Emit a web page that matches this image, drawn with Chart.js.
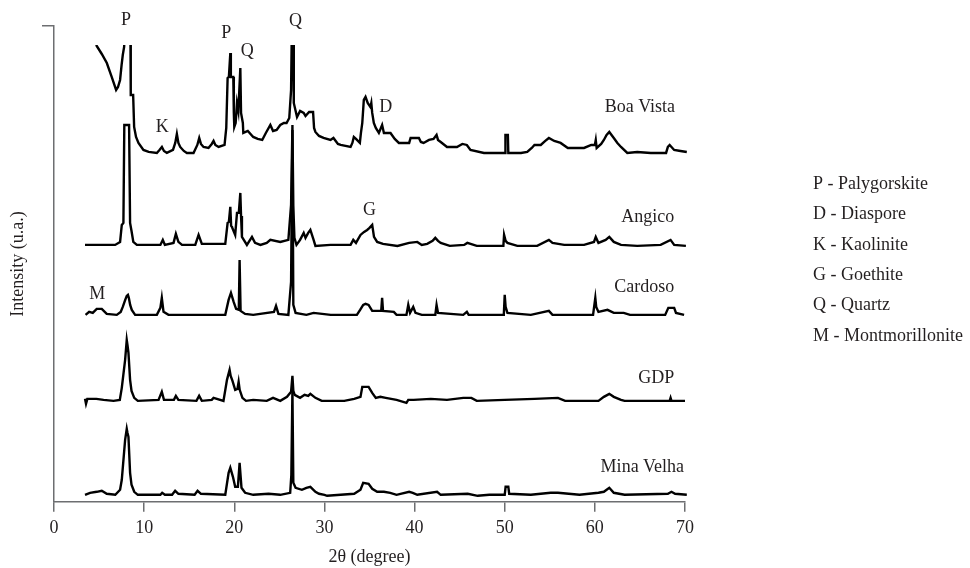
<!DOCTYPE html>
<html><head><meta charset="utf-8">
<script src="https://cdn.jsdelivr.net/npm/chart.js@4.4.1/dist/chart.umd.min.js"></script>
<style>html,body{margin:0;padding:0;background:#fff;}#wrap{width:970px;height:568px;position:relative;}</style>
</head><body><div id="wrap"><canvas id="c"></canvas></div>
<script>
// ---- data (2θ in degrees, intensity in arbitrary units above each trace's own baseline) ----
const sampleNames = ['Boa Vista', 'Angico', 'Cardoso', 'GDP', 'Mina Velha'];
const traceOffsets = [349, 256, 187, 101, 7];

const boaVista = [[4.6,112],[4.74,107],[5.3,99],[5.86,90],[6.4,76],[6.89,63],[7.1,66],[7.33,73],[7.5,88],[7.63,98],[7.78,106],[7.9,140],[8.2,175],[8.45,170],[8.5,130],[8.53,58],[8.78,58],[8.89,26],[9.1,16],[9.37,10],[9.92,3],[10.5,1],[11.41,0],[11.7,3],[11.97,6],[12.2,2],[12.52,0],[13.2,3],[13.45,10],[13.63,19],[13.8,10],[14.0,6],[14.4,2],[14.74,0],[15.48,0],[15.9,8],[16.11,15],[16.3,9],[16.59,6],[17.14,5],[17.5,9],[17.7,12],[17.9,8],[18.26,6],[18.92,8],[19.11,25],[19.26,75],[19.4,76],[19.56,100],[19.62,76],[19.89,76],[19.95,40],[20.0,26],[20.15,30],[20.3,50],[20.45,42],[20.67,85],[20.75,40],[20.85,40],[20.95,30],[21.0,20],[21.5,22],[22.1,16],[22.6,14],[23.1,13],[23.5,20],[24.0,28],[24.3,22],[24.7,23],[25.1,28],[25.5,30],[25.8,30],[26.1,35],[26.3,63],[26.42,150],[26.52,150],[26.6,50],[26.96,36],[27.3,42],[27.7,40],[27.9,37],[28.3,41],[28.74,41],[28.85,25],[29.0,21],[29.4,17],[29.9,15],[30.67,13],[31.0,15],[31.5,9],[31.8,8],[32.9,6],[33.1,10],[33.26,16],[33.5,14],[33.93,10],[34.05,20],[34.2,30],[34.37,53],[34.56,56],[34.8,50],[35.1,46],[35.2,50],[35.3,40],[35.48,30],[35.7,25],[36.04,20],[36.4,28],[36.6,20],[37.33,20],[37.8,14],[38.26,10],[39.4,10],[39.56,15],[40.48,15],[40.7,11],[41.0,10],[41.6,13],[42.1,14],[42.44,18],[42.6,13],[42.9,11],[43.6,6],[44.7,6],[45.3,9],[45.8,8],[46.2,3],[47.7,0],[49.2,0],[50.05,0],[50.08,18],[50.35,18],[50.4,0],[51.8,0],[52.5,1],[53.0,5],[53.3,8],[54.0,8],[54.5,12],[54.9,15],[55.5,12],[56.2,10],[57.0,5],[58.8,5],[59.6,8],[60.0,8],[60.1,13],[60.2,5],[60.7,9],[61.0,13],[61.3,18],[61.6,21],[62.1,15],[62.5,10],[62.9,6],[63.6,0],[64.7,1],[66.2,0],[67.9,0],[68.1,6],[68.3,8],[68.8,3],[69.5,2],[70.2,1]];

const angico = [[3.44,1],[5.0,1],[6.78,1],[7.33,4],[7.52,21],[7.7,23],[7.8,121],[8.33,121],[8.44,23],[8.6,15],[8.8,4],[9.19,1],[11.8,1],[12.07,6],[12.3,1],[13.26,3],[13.52,12],[13.8,4],[14.2,1],[15.67,1],[16.04,11],[16.4,2],[19.0,2],[19.26,23],[19.4,24],[19.56,39],[19.65,20],[19.74,19],[20.1,11],[20.3,33],[20.5,33],[20.67,53],[20.75,30],[20.85,9],[21.4,1],[21.96,9],[22.3,3],[22.9,1],[23.6,3],[24.0,6],[25.1,4],[26.0,6],[26.3,41],[26.45,121],[26.55,40],[26.67,8],[26.9,1],[27.3,6],[27.7,13],[27.9,8],[28.2,13],[28.44,16],[28.8,6],[29.0,0],[30.67,1],[32.9,1],[33.2,6],[33.5,3],[34.0,11],[34.4,14],[34.74,16],[35.0,18],[35.3,21],[35.5,9],[35.85,4],[36.5,2],[38.1,0],[39.4,3],[40.3,4],[40.8,1],[41.4,2],[42.0,5],[42.3,8],[42.6,5],[42.9,3],[43.9,0],[45.5,1],[45.85,3],[46.9,0],[49.0,0],[49.85,0],[49.93,11],[50.1,5],[50.3,3],[51.4,0],[53.6,0],[54.9,6],[55.3,3],[56.6,1],[58.8,1],[59.9,4],[60.1,9],[60.4,3],[61.2,6],[61.6,9],[62.1,4],[62.9,1],[64.7,0],[67.3,1],[68.4,6],[68.8,1],[70.1,0]];

const cardoso = [[3.5,0],[3.9,3],[4.3,2],[4.74,6],[5.3,6],[5.85,1],[6.96,0],[7.4,3],[7.63,8],[7.9,15],[8.07,19],[8.2,20],[8.3,17],[8.45,10],[8.63,5],[9.0,0],[11.41,0],[11.8,7],[11.96,17],[12.15,3],[12.7,0],[19.0,0],[19.37,15],[19.63,22],[19.93,13],[20.2,6],[20.5,5],[20.59,55],[20.7,4],[21.2,1],[22.1,0],[24.4,3],[24.63,9],[24.9,1],[26.0,0],[26.3,33],[26.45,185],[26.55,10],[26.8,2],[28.0,0],[28.8,2],[30.7,0],[33.6,0],[33.96,5],[34.3,10],[34.56,11],[34.9,10],[35.3,4],[36.3,4],[36.4,17],[36.5,4],[37.7,3],[38.0,0],[39.1,0],[39.3,10],[39.5,2],[39.85,8],[40.1,2],[40.8,0],[42.3,0],[42.44,10],[42.6,2],[45.4,0],[45.8,3],[46.0,0],[49.9,0],[50.0,20],[50.1,8],[50.3,2],[52.9,0],[54.9,4],[55.3,0],[59.8,0],[60.05,17],[60.15,8],[60.4,3],[61.4,5],[62.1,2],[63.2,2],[63.9,0],[67.8,0],[68.15,7],[68.8,7],[69.0,2],[69.9,0]];

const gdp = [[3.44,2],[3.55,-3],[3.7,2],[4.0,2],[4.7,2],[5.5,1],[6.6,0],[7.3,1],[7.52,13],[7.89,41],[8.07,61],[8.15,56],[8.26,48],[8.44,21],[8.6,10],[8.9,3],[9.3,0],[11.6,1],[11.96,9],[12.2,1],[13.3,1],[13.52,5],[13.8,1],[15.8,0],[16.1,5],[16.4,0],[17.5,1],[17.7,3],[18.8,0],[19.19,21],[19.48,31],[19.6,25],[19.8,20],[20.1,11],[20.35,12],[20.48,19],[20.6,11],[20.9,3],[21.3,0],[22.1,1],[23.6,0],[24.3,3],[25.1,0],[25.85,4],[26.3,9],[26.45,25],[26.55,10],[26.7,6],[27.3,3],[27.8,6],[28.2,5],[28.44,7],[29.0,3],[29.7,0],[32.2,0],[33.3,2],[34.0,4],[34.2,14],[34.9,14],[35.3,8],[35.7,3],[36.2,4],[36.8,3],[38.0,1],[39.1,-2],[39.3,1],[39.9,1],[41.8,2],[43.6,1],[45.4,3],[46.3,3],[46.9,0],[50.0,1],[53.3,2],[55.9,3],[56.7,0],[60.4,0],[61.0,4],[61.6,7],[62.1,4],[62.9,1],[63.3,0],[68.3,0],[68.4,3],[68.5,0],[70.0,0]];

const minaVelha = [[3.44,0],[4.0,2],[4.74,3],[5.3,4],[5.85,1],[6.8,0],[7.33,5],[7.52,15],[7.89,55],[8.07,66],[8.15,62],[8.26,58],[8.44,22],[8.6,10],[8.9,3],[9.3,0],[11.8,0],[12.0,2],[12.3,0],[13.1,0],[13.44,4],[13.8,1],[15.6,0],[15.93,4],[16.3,1],[19.0,0],[19.37,22],[19.56,27],[19.85,18],[20.1,8],[20.4,8],[20.59,32],[20.8,7],[21.2,2],[22.1,0],[23.8,1],[25.1,0],[26.2,2],[26.33,20],[26.45,105],[26.55,12],[26.8,7],[27.5,5],[28.0,7],[28.44,8],[29.0,3],[29.4,1],[30.0,0],[30.3,-1],[33.3,1],[34.0,5],[34.3,12],[34.9,11],[35.3,6],[35.85,3],[36.6,3],[37.3,2],[38.0,0],[39.4,3],[39.8,2],[40.3,0],[42.5,3],[42.9,0],[45.9,1],[47.0,-1],[48.3,0],[50.0,0],[50.1,8],[50.4,8],[50.5,1],[52.9,0],[55.1,2],[55.9,2],[58.3,0],[60.4,2],[61.0,3],[61.6,7],[62.1,2],[63.3,0],[68.1,1],[68.5,3],[68.9,1],[70.2,0]];

const traces = [boaVista, angico, cardoso, gdp, minaVelha];

const xTicks = [0, 10, 20, 30, 40, 50, 60, 70];
const xTitle = '2θ (degree)';
const yTitle = 'Intensity (u.a.)';

// peak letters: [text, 2θ, stacked intensity]
const peakLetters = [['P',8.0,482],['P',19.1,469],['Q',21.45,451],['Q',26.8,481],['K',12.0,375],['D',36.8,395],['G',35.0,292],['M',4.8,208]];
// sample names: anchored at right end [2θ, stacked intensity]
const sampleLabelPos = [[68.9,395],[68.8,285],[68.8,215],[68.8,124],[69.9,35]];
const phaseLegend = ['P - Palygorskite','D - Diaspore','K - Kaolinite','G - Goethite','Q - Quartz','M - Montmorillonite'];

// ---- chart ----
const FONT = '"Liberation Serif", "Times New Roman", serif';
const TXT = '#231f20';
const AXIS = '#6d6e71';

const datasets = traces.map((tr, i) => ({
  label: sampleNames[i],
  data: tr.map(p => ({x: p[0], y: p[1] + traceOffsets[i]})),
  borderColor: '#000',
  borderWidth: 2.4,
  pointRadius: 0,
  tension: 0,
  fill: false,
  clip: i === 0 ? {left: 2, top: -19, right: 4, bottom: 2} : {left: 2, top: 2, right: 4, bottom: 2}
}));

const textPlugin = {
  id: 'textPlugin',
  afterDraw(chart) {
    const {ctx, scales: {x, y}, chartArea} = chart;
    ctx.save();
    ctx.fillStyle = TXT;
    ctx.font = '18px ' + FONT;
    ctx.textBaseline = 'middle';
    ctx.textAlign = 'center';
    peakLetters.forEach(([t, px, py]) => ctx.fillText(t, x.getPixelForValue(px), y.getPixelForValue(py)));
    ctx.textAlign = 'right';
    sampleNames.forEach((n, i) => ctx.fillText(n, x.getPixelForValue(sampleLabelPos[i][0]), y.getPixelForValue(sampleLabelPos[i][1])));
    ctx.textAlign = 'left';
    const lx = chartArea.right + 128;
    phaseLegend.forEach((t, i) => ctx.fillText(t, lx, chartArea.top + 158 + i * 30.4));
    ctx.restore();
  }
};

new Chart(document.getElementById('c'), {
  type: 'line',
  data: {datasets},
  options: {
    responsive: true,
    maintainAspectRatio: false,
    animation: false,
    events: [],
    layout: {padding: {left: 4, top: 26, right: 285, bottom: 0}},
    plugins: {legend: {display: false}, tooltip: {enabled: false}},
    scales: {
      x: {
        type: 'linear', min: 0, max: 70,
        afterBuildTicks: s => { s.ticks = xTicks.map(v => ({value: v})); },
        ticks: {font: {family: FONT, size: 18}, color: TXT, padding: 5.5},
        grid: {drawOnChartArea: false, drawTicks: true, tickLength: 10, color: AXIS, lineWidth: 1.5},
        border: {display: true, color: AXIS, width: 1.5},
        title: {display: true, text: xTitle, font: {family: FONT, size: 18}, color: TXT, padding: {top: 2, bottom: 0}}
      },
      y: {
        type: 'linear', min: 0, max: 476,
        afterBuildTicks: s => { s.ticks = [{value: 476}]; },
        ticks: {display: false},
        grid: {drawOnChartArea: false, drawTicks: true, tickLength: 12, color: AXIS, lineWidth: 1.5},
        border: {display: true, color: AXIS, width: 1.5},
        title: {display: true, text: yTitle, font: {family: FONT, size: 18}, color: TXT, padding: {top: 3.2, bottom: 13.2}}
      }
    }
  },
  plugins: [textPlugin]
});
</script>
</body></html>
